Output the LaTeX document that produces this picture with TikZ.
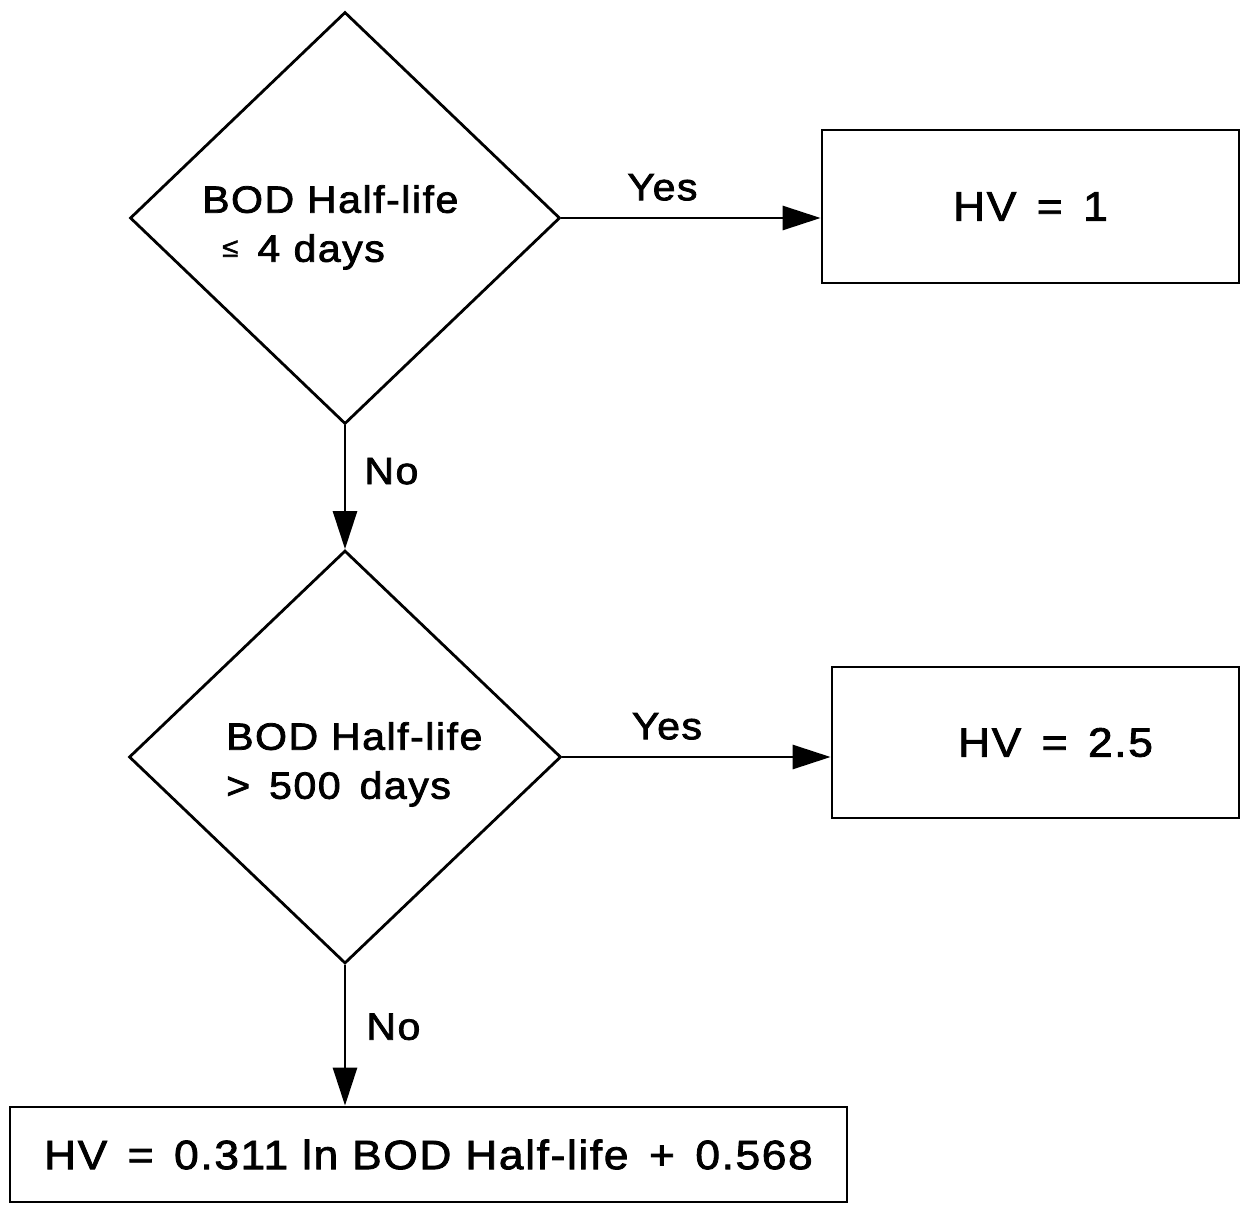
\documentclass[tikz,border=0pt]{standalone}
\usepackage{fontspec}
\setmainfont{Liberation Sans}[FakeStretch=1.08,LetterSpace=4,FakeBold=2]
\usetikzlibrary{shapes.geometric,arrows.meta}
\newcommand\opgap{\hspace{0.5em}}
\begin{document}
\begin{tikzpicture}[x=1pt,y=-1pt,
  decision/.style={diamond,draw,line width=2.8pt,inner sep=0pt},
  question/.style={inner sep=0pt,align=left,anchor=north west,
    font=\fontsize{38}{49}\selectfont},
  result/.style={rectangle,draw,line width=2.8pt,inner sep=0pt,
    font=\fontsize{41}{48}\selectfont},
  flow/.style={line width=2.8pt,-{Triangle[length=38pt,width=24pt]}},
  answer/.style={inner sep=0pt,font=\fontsize{38}{42}\selectfont}]

\useasboundingbox (0,0) rectangle (1241,1204);

% decisions
\node[decision,minimum width=430pt,minimum height=412pt] (d1) at (345,218) {};
\node[question] (q1) at (202,185)
  {BOD Half-life\\\hspace*{20pt}{\fontsize{27}{27}\selectfont\raisebox{5pt}{≤}}\ \,4\hspace{0.35em}days};
\node[decision,minimum width=432pt,minimum height=413pt] (d2) at (345,757) {};
\node[question] (q2) at (226,722)
  {BOD Half-life\\>\opgap 500\opgap days};

% results
\node[result,minimum width=417pt,minimum height=153pt] (b1) at (1030.5,206.5)
  {HV\opgap=\opgap 1};
\node[result,minimum width=407pt,minimum height=151pt] (b2) at (1035.5,742.5)
  {\hspace*{40pt}HV\opgap=\opgap 2.5};
\node[result,minimum width=837pt,minimum height=95pt] (b3) at (428.5,1154.5)
  {HV\opgap=\opgap 0.311 ln BOD Half-life\opgap+\opgap 0.568};

% connectors
\draw[flow] (d1.east) -- node[answer,pos=0.39,above=16pt] (y1) {Yes} (d1.east -| b1.west);
\draw[flow] (d1.south) -- node[answer,pos=0.37,right=18pt] (n1) {No} (d2.north);
\draw[flow] (d2.east) -- node[answer,pos=0.39,above=16pt] (y2) {Yes} (d2.east -| b2.west);
\draw[flow] (d2.south) -- node[answer,pos=0.44,right=20pt] (n2) {No} (d2.south |- b3.north);
\end{tikzpicture}
\end{document}
